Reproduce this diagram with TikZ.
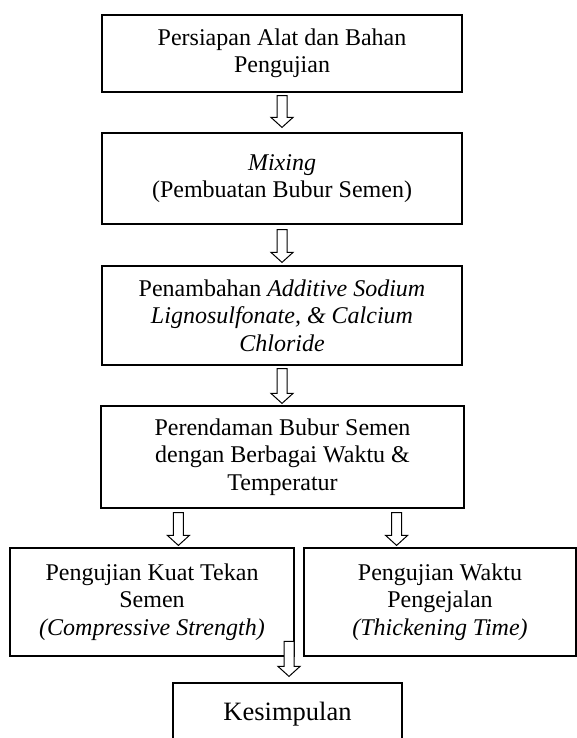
\documentclass[tikz,border=0pt]{standalone}
\usepackage{fontspec}
\setmainfont{Liberation Serif}
\usetikzlibrary{calc}

\tikzset{
  kotak/.style={draw, line width=1.2pt, align=center, inner sep=0pt,
    font=\fontsize{24}{27.5}\selectfont},
  panah/.style={draw, fill=white, line width=1pt, to path={
    let \p1=(\tikztostart), \p2=(\tikztotarget) in
    (\x1-5pt,\y1) -- (\x1+5pt,\y1) -- (\x1+5pt,\y2+10pt) -- (\x1+11pt,\y2+10pt)
    -- (\x1,\y2) -- (\x1-11pt,\y2+10pt) -- (\x1-5pt,\y2+10pt) -- cycle}}
}

\begin{document}
\begin{tikzpicture}[x=1pt,y=-1pt]
  \clip (0,0) rectangle (577,738);
  % kotak alur utama
  \node[kotak, minimum width=360pt, minimum height=77pt] (persiapan) at (282,53.5)
    {Persiapan Alat dan Bahan\\Pengujian};
  \node[kotak, minimum width=360pt, minimum height=91pt] (mixing) at (282,178.5)
    {\textit{Mixing}\\(Pembuatan Bubur Semen)};
  \node[kotak, minimum width=360pt, minimum height=99pt] (aditif) at (282,315.5)
    {Penambahan \textit{Additive Sodium}\\\textit{Lignosulfonate, \& Calcium}\\\textit{Chloride}};
  \node[kotak, minimum width=363pt, minimum height=102pt] (rendam) at (282.5,457)
    {Perendaman Bubur Semen\\dengan Berbagai Waktu \&\\Temperatur};
  \node[kotak, minimum width=284pt, minimum height=108pt] (kuat) at (152,602)
    {Pengujian Kuat Tekan\\Semen\\\textit{(Compressive Strength)}};
  \node[kotak, minimum width=272pt, minimum height=108pt] (waktu) at (440,602)
    {Pengujian Waktu\\Pengejalan\\\textit{(Thickening Time)}};
  \node[kotak, minimum width=229pt, minimum height=62pt, font=\fontsize{26.5}{30}\selectfont]
    (kesimpulan) at (287.5,714) {Kesimpulan};

  % ujung panah
  \coordinate (p1a) at ([yshift=-3pt]persiapan.south);
  \coordinate (p1b) at ([yshift=5pt]mixing.north);
  \coordinate (p2a) at ([yshift=-5pt]mixing.south);
  \coordinate (p2b) at ([yshift=3pt]aditif.north);
  \coordinate (p3a) at ([yshift=-3pt]aditif.south);
  \coordinate (p3b) at ([yshift=2pt]rendam.north);
  \coordinate (p4a) at ([xshift=78pt,yshift=-4pt]rendam.south west);
  \coordinate (p4b) at ([xshift=27pt,yshift=2pt]kuat.north);
  \coordinate (p5a) at ([xshift=-68pt,yshift=-4pt]rendam.south east);
  \coordinate (p5b) at ([xshift=-44pt,yshift=2pt]waktu.north);
  \coordinate (p6a) at ([xshift=1.5pt,yshift=41pt]kesimpulan.north);
  \coordinate (p6b) at ([xshift=1.5pt,yshift=6pt]kesimpulan.north);

  \draw[panah] (p1a) to (p1b);
  \draw[panah] (p2a) to (p2b);
  \draw[panah] (p3a) to (p3b);
  \draw[panah] (p4a) to (p4b);
  \draw[panah] (p5a) to (p5b);
  \draw[panah] (p6a) to (p6b);
\end{tikzpicture}
\end{document}
